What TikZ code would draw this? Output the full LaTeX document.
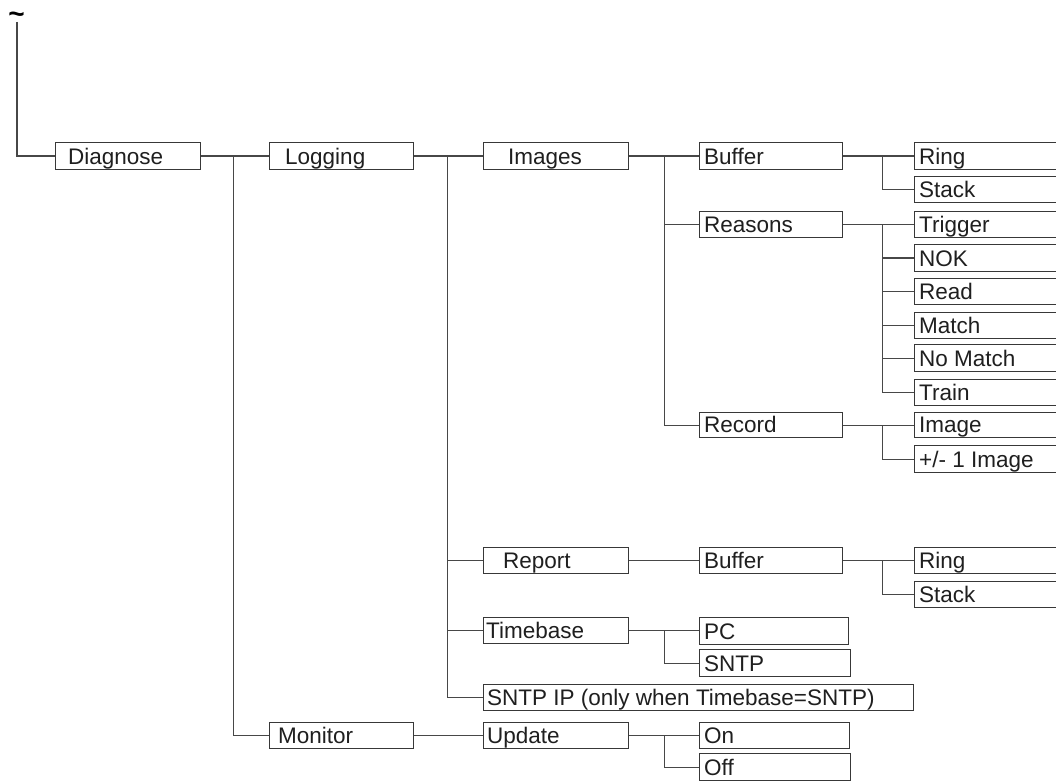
\documentclass[tikz,border=0pt]{standalone}
\usepackage{fontspec}
\setmainfont{Liberation Sans}
\begin{document}
\begin{tikzpicture}[x=1pt,y=-1pt,
  box/.style={draw=black!78,line width=1.3pt,anchor=north west,inner sep=0pt},
  lbl/.style={anchor=base west,inner sep=0pt,text=black!88,font=\fontsize{22.5}{26}\selectfont},
  conn/.style={draw=black!72,line width=1.3pt}]
% page frame
\path[use as bounding box,fill=white] (0,0) rectangle (1056,783);
\clip (0,0) rectangle (1056,783);

% \menubox{name}{left}{top}{width}{height}{padding}{text}
\newcommand{\menubox}[7]{%
  \node[box,minimum width=#4pt,minimum height=#5pt] (#1) at (#2,#3) {};
  \node[lbl] (#1-t) at ([xshift=#6pt,yshift=6pt]#1.south west) {#7};}

% root marker
\node[inner sep=0pt,anchor=base,text height=11pt,text depth=0pt,
      font=\fontsize{28}{28}\selectfont\bfseries] (root) at (16.5,24) {\textasciitilde};
\coordinate (rootfoot) at (17,22);

% level 1
\menubox{diag}{55}{142}{145}{27}{13}{Diagnose}
% level 2
\menubox{log}{269}{142}{144}{27}{16}{Logging}
\menubox{mon}{269}{722}{144}{26}{9}{Monitor}
% level 3
\menubox{img}{483}{142}{145}{27}{25}{Images}
\menubox{rep}{483}{547}{145}{26}{20}{Report}
\menubox{tb}{483}{617}{145}{26}{3}{Timebase}
\menubox{sip}{483}{684}{430}{26}{4}{SNTP IP (only when Timebase=SNTP)}
\menubox{upd}{483}{722}{145}{26}{4}{Update}
% level 4
\menubox{buf}{699}{142}{143}{27}{5}{Buffer}
\menubox{rea}{699}{211}{143}{26}{5}{Reasons}
\menubox{rec}{699}{412}{143}{25}{5}{Record}
\menubox{rbuf}{699}{547}{143}{26}{5}{Buffer}
\menubox{pc}{699}{617}{149}{27}{5}{PC}
\menubox{sntp}{699}{649}{151}{27}{5}{SNTP}
\menubox{on}{699}{722}{150}{26}{5}{On}
\menubox{off}{699}{753}{151}{27}{5}{Off}
% level 5
\menubox{ring}{914}{142}{160}{27}{5}{Ring}
\menubox{stack}{914}{176}{160}{26}{5}{Stack}
\menubox{trig}{914}{211}{160}{26}{5}{Trigger}
\menubox{nok}{914}{244}{160}{27}{5}{NOK}
\menubox{read}{914}{278}{160}{26}{5}{Read}
\menubox{match}{914}{312}{160}{26}{5}{Match}
\menubox{nomatch}{914}{344}{160}{27}{5}{No Match}
\menubox{train}{914}{379}{160}{26}{5}{Train}
\menubox{image}{914}{412}{160}{25}{5}{Image}
\menubox{pmimg}{914}{445}{160}{27}{5}{+/- 1 Image}
\menubox{rring}{914}{547}{160}{26}{5}{Ring}
\menubox{rstack}{914}{581}{160}{26}{5}{Stack}

% branch points of the trees
\coordinate (j-diag) at ([xshift=32pt]diag.east);
\coordinate (j-log)  at ([xshift=33pt]log.east);
\coordinate (j-img)  at ([xshift=35pt]img.east);
\coordinate (j-tb)   at ([xshift=35pt]tb.east);
\coordinate (j-upd)  at ([xshift=35pt]upd.east);
\coordinate (j-buf)  at ([xshift=39pt]buf.east);
\coordinate (j-rea)  at ([xshift=39pt]rea.east);
\coordinate (j-rec)  at ([xshift=39pt]rec.east);
\coordinate (j-rbuf) at ([xshift=39pt]rbuf.east);

% connectors
\draw[conn] (rootfoot) |- (diag.west);
\draw[conn] (diag.east) -- (diag.east -| log.west);
\draw[conn] (j-diag) |- (mon.west);

\draw[conn] (log.east) -- (log.east -| img.west);
\draw[conn] (j-log) |- (sip.west);
\draw[conn] (j-log |- rep.west) -- (rep.west);
\draw[conn] (j-log |- tb.west) -- (tb.west);
\draw[conn] (mon.east) -- (mon.east -| upd.west);

\draw[conn] (img.east) -- (img.east -| buf.west);
\draw[conn] (j-img) |- (rec.west);
\draw[conn] (j-img |- rea.west) -- (rea.west);
\draw[conn] (rep.east) -- (rep.east -| rbuf.west);
\draw[conn] (tb.east) -- (tb.east -| pc.west);
\draw[conn] (j-tb) |- (sntp.west);
\draw[conn] (upd.east) -- (upd.east -| on.west);
\draw[conn] (j-upd) |- (off.west);

\draw[conn] (buf.east) -- (buf.east -| ring.west);
\draw[conn] (j-buf) |- (stack.west);
\draw[conn] (rea.east) -- (rea.east -| trig.west);
\draw[conn] (j-rea) |- (train.west);
\foreach \c in {nok,read,match,nomatch}
  \draw[conn] (j-rea |- \c.west) -- (\c.west);
\draw[conn] (rec.east) -- (rec.east -| image.west);
\draw[conn] (j-rec) |- (pmimg.west);
\draw[conn] (rbuf.east) -- (rbuf.east -| rring.west);
\draw[conn] (j-rbuf) |- (rstack.west);
\end{tikzpicture}
\end{document}
